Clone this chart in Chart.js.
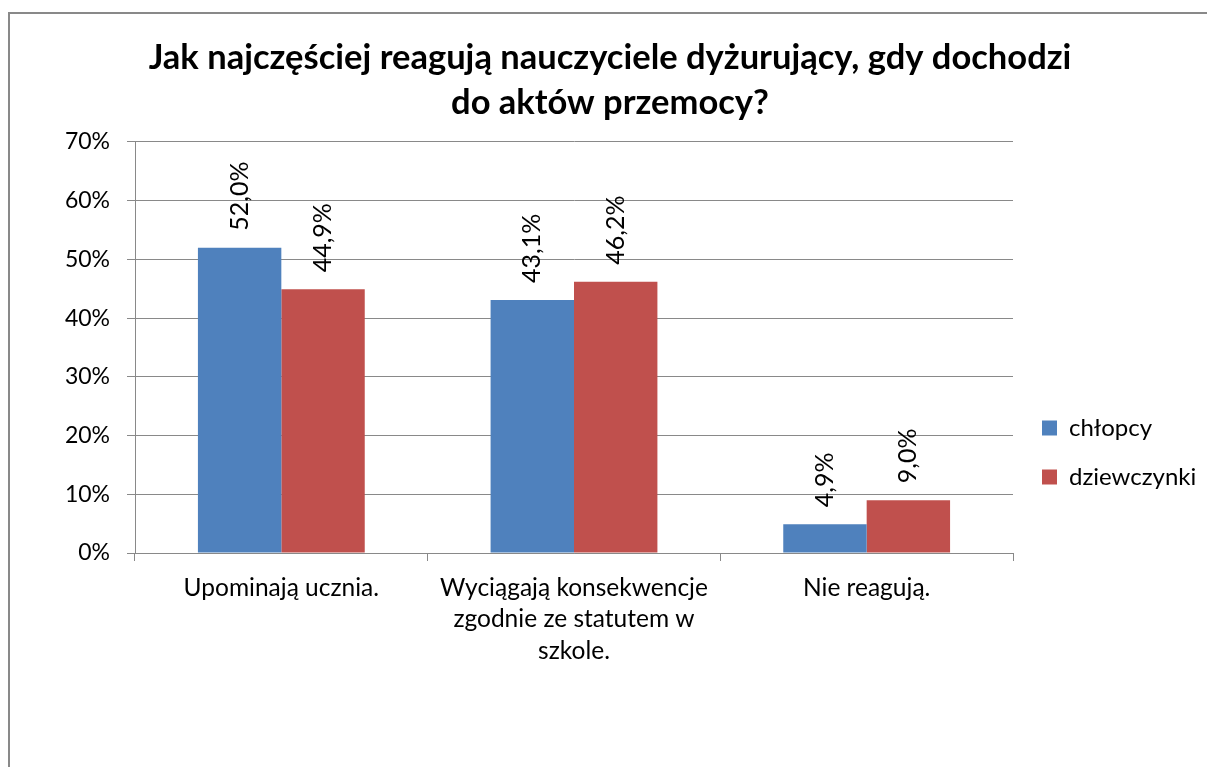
<!DOCTYPE html>
<html>
<head>
<meta charset="utf-8">
<script src="https://cdn.jsdelivr.net/npm/chart.js@4.4.1/dist/chart.umd.min.js"></script>
<style>
  html, body { margin: 0; padding: 0; background: #fff; overflow: hidden; }
  #wrap { position: relative; width: 1207px; height: 767px; overflow: hidden; }
  #frame { position: absolute; left: 8px; top: 12px; width: 1400px; height: 1000px; border-left: 2px solid #898989; border-top: 2px solid #898989; box-sizing: border-box; }
  canvas { position: absolute; left: 0; top: 0; }
</style>
</head>
<body>
<div id="wrap">
  <div id="frame"></div>
  <canvas id="c" width="1207" height="767"></canvas>
</div>
<script>
const titleLines = ['Jak najczęściej reagują nauczyciele dyżurujący, gdy dochodzi', 'do aktów przemocy?'];
const categories = [
  ['Upominają ucznia.'],
  ['Wyciągają konsekwencje', 'zgodnie ze statutem w', 'szkole.'],
  ['Nie reagują.']
];
const seriesNames = ['chłopcy', 'dziewczynki'];
const boysValues = [52.0, 43.1, 4.9];
const girlsValues = [44.9, 46.2, 9.0];
const yTicks = [0, 10, 20, 30, 40, 50, 60, 70];

const FONT = 'Lato';
const GRID = '#898989';

const valueLabels = {
  id: 'valueLabels',
  afterDatasetsDraw(chart) {
    const ctx = chart.ctx;
    chart.data.datasets.forEach((ds, i) => {
      const meta = chart.getDatasetMeta(i);
      meta.data.forEach((bar, j) => {
        const v = ds.data[j];
        ctx.save();
        ctx.translate(bar.x, bar.y - 17);
        ctx.rotate(-Math.PI / 2);
        ctx.font = '25px ' + FONT;
        ctx.fillStyle = '#000';
        ctx.textAlign = 'left';
        ctx.textBaseline = 'middle';
        ctx.fillText(v.toFixed(1).replace('.', ',') + '%', 0, 0);
        ctx.restore();
      });
    });
  }
};

const legendPlace = {
  id: 'legendPlace',
  beforeLayout(chart) {
    const lg = chart.legend;
    if (lg && !lg.__patched) {
      const orig = lg.fit;
      lg.fit = function () { orig.call(this); this.width = 194; };
      lg.__patched = true;
    }
  },
  afterLayout(chart) {
    const lg = chart.legend;
    if (lg) {
      lg.left = 1017;
      lg.top = 391;
    }
  }
};

new Chart(document.getElementById('c'), {
  type: 'bar',
  data: {
    labels: categories,
    datasets: [
      { label: seriesNames[0], data: boysValues, backgroundColor: '#4F81BD' },
      { label: seriesNames[1], data: girlsValues, backgroundColor: '#C0504D' }
    ]
  },
  options: {
    responsive: false,
    animation: false,
    devicePixelRatio: 1,
    layout: { padding: { left: 13, right: 0, top: 0, bottom: 0 } },
    datasets: { bar: { categoryPercentage: 0.57, barPercentage: 1.0 } },
    plugins: {
      title: {
        display: true,
        text: titleLines,
        color: '#000',
        font: { family: FONT, size: 34.5, weight: 'bold', lineHeight: 1.304 },
        padding: { top: 35, bottom: 17 }
      },
      legend: {
        display: true,
        position: 'right',
        align: 'start',
        labels: {
          color: '#000',
          font: { family: FONT, size: 24 },
          boxWidth: 15,
          boxHeight: 15,
          padding: 25
        }
      },
      tooltip: { enabled: false }
    },
    scales: {
      x: {
        offset: true,
        grid: { display: true, offset: true, drawOnChartArea: false, drawTicks: true, tickLength: 8, color: GRID },
        border: { display: true, color: GRID, width: 1 },
        ticks: {
          color: '#000',
          font: { family: FONT, size: 24.5, lineHeight: 1.286 },
          padding: 11,
          maxRotation: 0,
          minRotation: 0,
          autoSkip: false
        },
        afterFit(scale) { scale.height = 214; }
      },
      y: {
        min: 0,
        max: 70,
        afterBuildTicks(scale) { scale.ticks = yTicks.map(v => ({ value: v })); },
        grid: { color: GRID, tickLength: 8, drawTicks: true },
        border: { display: true, color: GRID, width: 1 },
        ticks: {
          color: '#000',
          font: { family: FONT, size: 23 },
          padding: 17,
          callback: (v) => v + '%'
        },
        afterFit(scale) { scale.width = 122; }
      }
    }
  },
  plugins: [valueLabels, legendPlace]
});
</script>
</body>
</html>
